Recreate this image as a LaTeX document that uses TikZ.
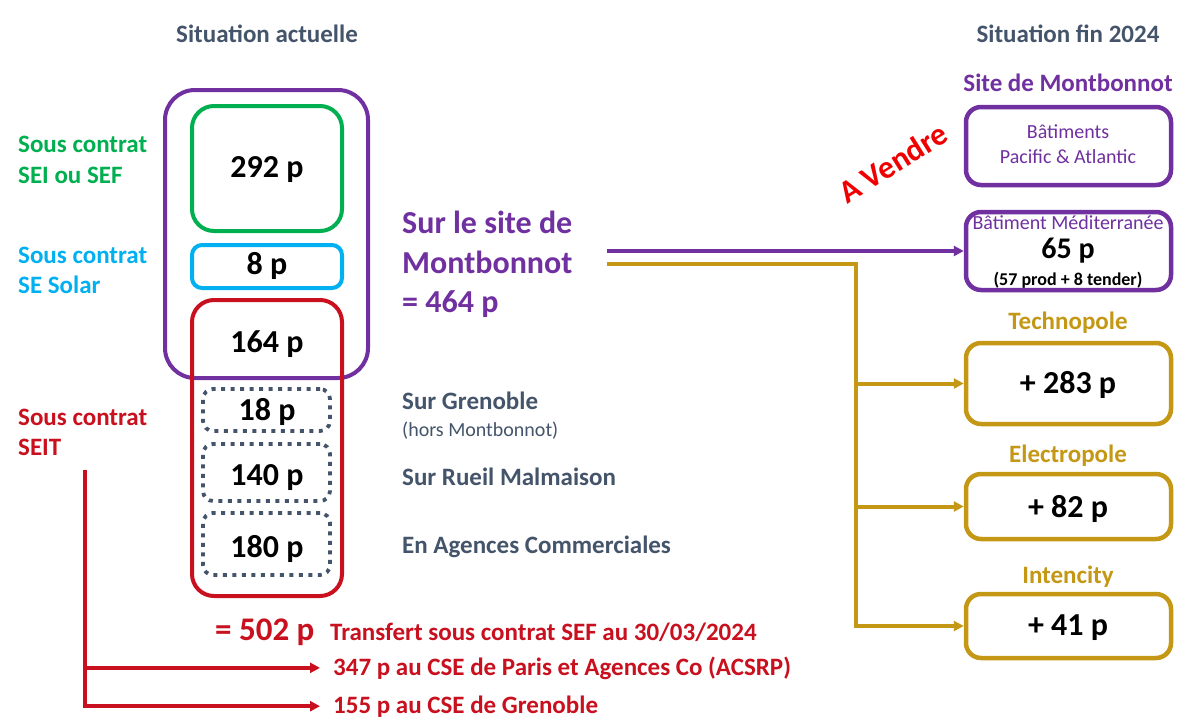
\documentclass[tikz,border=0pt]{standalone}
\usepackage{fontspec}
\setmainfont{Carlito}
\usetikzlibrary{arrows.meta}
\definecolor{cpurple}{RGB}{112,48,160}
\definecolor{cgreen}{RGB}{0,176,80}
\definecolor{ccyan}{RGB}{0,176,240}
\definecolor{cred}{RGB}{200,16,30}
\definecolor{cvred}{RGB}{240,0,0}
\definecolor{cgold}{RGB}{196,152,20}
\definecolor{cgray}{RGB}{68,84,106}
\newcommand\myfs[2]{\fontsize{#1}{#2}\selectfont}
\begin{document}
\begin{tikzpicture}[x=1pt,y=-1pt,
  every node/.style={inner sep=0pt},
  bx/.style={draw, rectangle, rounded corners=#1, line width=4pt},
  bx/.default=20pt,
  dotbox/.style={draw=cgray, rectangle, rounded corners=10pt, line width=3.8pt,
     dash pattern=on 4pt off 5.5pt, minimum width=127pt},
  rbox/.style={bx=15pt, line width=4.5pt, minimum width=205pt},
  hd/.style={font=\myfs{25}{30}\bfseries, text=cgray},
  lab/.style={font=\myfs{25}{30}\bfseries},
  num/.style={font=\myfs{32}{38}\bfseries, text=black},
  mid/.style={font=\myfs{32}{38}\bfseries, text=cpurple},
  gtx/.style={font=\myfs{25}{30}\bfseries, text=cgray},
  sm/.style={font=\myfs{20}{24}, text=cpurple},
  rtx/.style={font=\myfs{25}{30}\bfseries, text=cred, inner xsep=13pt},
  parr/.style={draw=cpurple, line width=4pt, -{Triangle[length=10pt,width=10pt]}},
  garr/.style={draw=cgold, line width=4pt, -{Triangle[length=10pt,width=10pt]}},
  rarr/.style={draw=cred, line width=3.5pt, -{Triangle[length=10pt,width=10pt]}}
]
\useasboundingbox (0,0) rectangle (1200,728);
\fill[white] (0,0) rectangle (1200,728);

% headers
\node[hd, anchor=base] (h1) at (267,42) {Situation actuelle};
\node[hd, anchor=base] (h2) at (1068,42) {Situation fin 2024};

% left column boxes
\node[bx=30pt, draw=cpurple, minimum width=203pt, minimum height=288pt] (pur) at (266.5,234) {};
\node[bx=22pt, draw=cgreen, minimum width=150pt, minimum height=125pt] (grn) at (267,168.5) {};
\node[num, anchor=base] (n292) at (267,177) {292 p};
\node[bx=10pt, draw=ccyan, minimum width=150pt, minimum height=43pt] (cyn) at (267,266.5) {};
\node[num, anchor=base] (n8) at (267,274) {8 p};
\node[bx=22pt, draw=cred, minimum width=150pt, minimum height=296pt] (redb) at (267,448) {};
\node[num, anchor=base] (n164) at (267,352) {164 p};
\node[dotbox, minimum height=42pt] (d18) at (266.5,410) {};
\node[num, anchor=base] (n18) at (267,420) {18 p};
\node[dotbox, minimum height=57pt] (d140) at (266.5,472.5) {};
\node[num, anchor=base] (n140) at (267,485) {140 p};
\node[dotbox, minimum height=62pt] (d180) at (266.5,544) {};
\node[num, anchor=base] (n180) at (267,557) {180 p};

% left labels
\node[lab, text=cgreen, anchor=base west] (l1a) at (18,152) {Sous contrat};
\node[lab, text=cgreen, anchor=base west] (l1b) at (18,183) {SEI ou SEF};
\node[lab, text=ccyan, anchor=base west] (l2a) at (18,263) {Sous contrat};
\node[lab, text=ccyan, anchor=base west] (l2b) at (18,293) {SE Solar};
\node[lab, text=cred, anchor=base west] (l3a) at (18,425) {Sous contrat};
\node[lab, text=cred, anchor=base west] (l3b) at (18,455) {SEIT};

% middle texts
\node[mid, anchor=base west] (m1) at (402,233) {Sur le site de};
\node[mid, anchor=base west] (m2) at (402,273) {Montbonnot};
\node[mid, anchor=base west] (m3) at (402,312) {= 464 p};
\node[gtx, anchor=base west] (g1) at (402,409) {Sur Grenoble};
\node[font=\myfs{20}{24}, text=cgray, anchor=base west] (g1b) at (402,436) {(hors Montbonnot)};
\node[gtx, anchor=base west] (g2) at (402,485) {Sur Rueil Malmaison};
\node[gtx, anchor=base west] (g3) at (402,553) {En Agences Commerciales};

% bottom texts
\node[font=\myfs{33}{38}\bfseries, text=cred, anchor=base west] (t502) at (215,640) {= 502 p};
\node[font=\myfs{25}{30}\bfseries, text=cred, anchor=base west] (ttr) at (330,640) {Transfert sous contrat SEF au 30/03/2024};
\node[rtx, anchor=base west] (t347) at (320,675) {347 p au CSE de Paris et Agences Co (ACSRP)};
\node[rtx, anchor=base west] (t155) at (320,713) {155 p au CSE de Grenoble};

% right column
\node[hd, text=cpurple, anchor=base] (site) at (1068,91) {Site de Montbonnot};
\node[rbox, draw=cpurple, minimum height=78pt] (pac) at (1068.5,146) {};
\node[sm, anchor=base] (pac1) at (1068,138) {Bâtiments};
\node[sm, anchor=base] (pac2) at (1068,163) {Pacific \& Atlantic};
\node[rbox, draw=cpurple, minimum height=78pt] (med) at (1068.5,251) {};
\node[sm, anchor=base] (med1) at (1068,229) {Bâtiment Méditerranée};
\node[font=\myfs{30}{36}\bfseries, anchor=base] (med2) at (1068,258) {65 p};
\node[font=\myfs{18}{22}\bfseries, anchor=base] (med3) at (1068,285) {(57 prod + 8 tender)};

\node[lab, text=cgold, anchor=base] (lt) at (1068,329) {Technopole};
\node[rbox, draw=cgold, minimum height=81pt] (tech) at (1068.5,383.5) {};
\node[num, anchor=base] (n283) at (1068,393) {+ 283 p};
\node[lab, text=cgold, anchor=base] (le) at (1068,462) {Electropole};
\node[rbox, draw=cgold, minimum height=65pt] (elec) at (1068.5,506.5) {};
\node[num, anchor=base] (n82) at (1068,517) {+ 82 p};
\node[lab, text=cgold, anchor=base] (li) at (1068,583) {Intencity};
\node[rbox, draw=cgold, minimum height=64pt] (intc) at (1068.5,626) {};
\node[num, anchor=base] (n41) at (1068,635) {+ 41 p};

\node[font=\myfs{32}{38}\bfseries, text=cvred, rotate=32] (vend) at (893,163) {A Vendre};

% connectors
\coordinate (p0) at (607,251);
\draw[parr] (p0) -- (med.west);
\coordinate (g0) at (607,264);
\coordinate (gj) at (856,264);
\draw[garr] (g0) -- (gj) |- (intc.west);
\draw[garr] (gj |- tech.west) -- (tech.west);
\draw[garr] (gj |- elec.west) -- (elec.west);
\coordinate (r0) at (85,470);
\draw[rarr] (r0) |- (t155.west);
\draw[rarr] (r0 |- t347.west) -- (t347.west);
\end{tikzpicture}
\end{document}
